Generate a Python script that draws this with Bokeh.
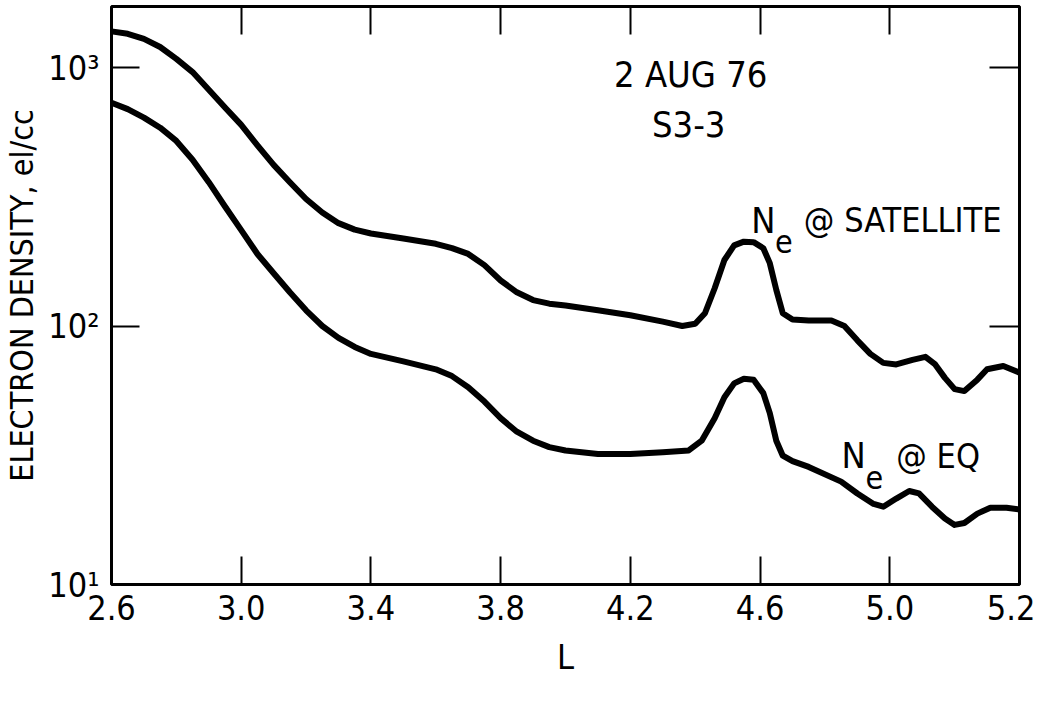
from bokeh.plotting import figure
from bokeh.models import (FixedTicker, LinearAxis, LogAxis, Label,
                          CustomJSTickFormatter, PrintfTickFormatter)
from bokeh.embed import file_html
from bokeh.resources import INLINE

# ---- data ----
L_sat = [2.60, 2.65, 2.70, 2.75, 2.80, 2.85, 2.90, 2.95, 3.00, 3.05, 3.10, 3.15,
         3.20, 3.25, 3.30, 3.35, 3.40, 3.50, 3.60, 3.65, 3.70, 3.75, 3.80, 3.85,
         3.90, 3.95, 4.00, 4.10, 4.20, 4.30, 4.36, 4.40, 4.43, 4.46, 4.49, 4.52,
         4.55, 4.58, 4.61, 4.63, 4.65, 4.67, 4.70, 4.75, 4.82, 4.86, 4.90, 4.94,
         4.98, 5.02, 5.07, 5.11, 5.14, 5.17, 5.20, 5.23, 5.27, 5.30, 5.35, 5.40]
ne_sat = [1380, 1350, 1290, 1200, 1080, 960, 820, 700, 600, 500, 420, 360,
          310, 275, 250, 236, 228, 218, 208, 200, 190, 172, 150, 135,
          126, 122, 120, 115, 110, 104, 100, 102, 112, 140, 180, 205,
          212, 211, 200, 175, 138, 112, 106, 105, 105, 100, 88, 78,
          72, 71, 74, 76, 71, 63, 57, 56, 62, 68, 70, 66]

L_eq = [2.60, 2.65, 2.70, 2.75, 2.80, 2.85, 2.90, 2.95, 3.00, 3.05, 3.10, 3.15,
        3.20, 3.25, 3.30, 3.35, 3.40, 3.50, 3.60, 3.65, 3.70, 3.75, 3.80, 3.85,
        3.90, 3.95, 4.00, 4.10, 4.20, 4.30, 4.38, 4.42, 4.46, 4.49, 4.52, 4.55,
        4.58, 4.61, 4.63, 4.65, 4.67, 4.70, 4.75, 4.85, 4.90, 4.95, 4.98, 5.02,
        5.06, 5.09, 5.13, 5.17, 5.20, 5.23, 5.27, 5.31, 5.36, 5.40]
ne_eq = [730, 690, 640, 585, 520, 440, 360, 290, 235, 190, 160, 135,
         115, 100, 90, 83, 78, 73, 68, 64, 58, 51, 44, 39,
         36, 34, 33, 32, 32, 32.5, 33, 36, 44, 53, 60, 62.5,
         62, 55, 46, 36, 31.5, 30, 28.5, 25, 22.5, 20.5, 20, 21.5,
         23, 22.5, 20, 18, 17, 17.3, 18.8, 19.8, 19.8, 19.5]

x_ticks = [2.6, 3.0, 3.4, 3.8, 4.2, 4.6, 5.0, 5.4]
x_top_ticks = [3.0, 3.4, 3.8, 4.2, 4.6, 5.0]
y_ticks = [10, 100, 1000]
y_tick_labels = {10: "10\u00b9", 100: "10\u00b2", 1000: "10\u00b3"}
last_x_label = "5.2"
x_title = "L"
y_title = "ELECTRON DENSITY, el/cc"

FONT = "DejaVu Sans Condensed, Liberation Sans Narrow, DejaVu Sans"

p = figure(width=1035, height=690, x_range=(2.6, 5.4), y_range=(10, 10 ** 3.236),
           y_axis_type="log", output_backend="svg", toolbar_location=None,
           min_border_left=105, min_border_right=16, min_border_top=6,
           min_border_bottom=106)
p.background_fill_color = "white"
p.border_fill_color = "white"
p.outline_line_color = "black"
p.outline_line_width = 3
p.xgrid.visible = False
p.ygrid.visible = False

# bottom axis
xa = p.xaxis[0]
xa.ticker = FixedTicker(ticks=x_ticks)
xa.formatter = PrintfTickFormatter(format="%.1f")
xa.major_label_overrides = {5.4: last_x_label}
xa.major_tick_in = 28
xa.major_tick_out = 0
xa.major_tick_line_width = 2
xa.major_tick_line_color = "black"
xa.minor_tick_line_color = None
xa.axis_line_color = None
xa.major_label_text_font = FONT
xa.major_label_text_font_size = "34px"
xa.major_label_text_color = "black"
xa.major_label_standoff = 10
xa.axis_label = x_title
xa.axis_label_text_font = FONT
xa.axis_label_text_font_size = "34px"
xa.axis_label_text_font_style = "normal"
xa.axis_label_text_color = "black"
xa.axis_label_standoff = 14

# left axis
ya = p.yaxis[0]
ya.ticker = FixedTicker(ticks=y_ticks)
ya.major_label_overrides = y_tick_labels
ya.major_tick_in = 28
ya.major_tick_out = 0
ya.major_tick_line_width = 2
ya.major_tick_line_color = "black"
ya.minor_tick_line_color = None
ya.axis_line_color = None
ya.major_label_text_font = FONT
ya.major_label_text_font_size = "34px"
ya.major_label_text_color = "black"
ya.major_label_standoff = 12
ya.axis_label = y_title
ya.axis_label_text_font = FONT
ya.axis_label_text_font_size = "32px"
ya.axis_label_text_font_style = "normal"
ya.axis_label_text_color = "black"
ya.axis_label_standoff = 4

blank = CustomJSTickFormatter(code="return ''")
top = LinearAxis(ticker=FixedTicker(ticks=x_top_ticks), formatter=blank,
                 major_tick_in=28, major_tick_out=0, major_tick_line_width=2,
                 major_tick_line_color="black",
                 minor_tick_line_color=None, axis_line_color=None,
                 major_label_text_font_size="1px", major_label_standoff=0)
p.add_layout(top, "above")
right = LogAxis(ticker=FixedTicker(ticks=[100, 1000]), formatter=blank,
                major_tick_in=30, major_tick_out=0, major_tick_line_width=2,
                major_tick_line_color="black",
                minor_tick_line_color=None, axis_line_color=None,
                major_label_text_font_size="1px", major_label_standoff=0)
p.add_layout(right, "right")

# curves
p.line(L_sat, ne_sat, line_color="black", line_width=6, line_join="round", line_cap="round")
p.line(L_eq, ne_eq, line_color="black", line_width=6, line_join="round", line_cap="round")

def lab(x, y, t, size, align="left", base="alphabetic"):
    p.add_layout(Label(x=x, y=y, text=t, text_font=FONT, text_font_size=size,
                       text_align=align, text_baseline=base, text_color="black"))

# annotations
lab(4.386, 940, "2 AUG 76", "36px", "center", "middle")
lab(4.38, 602, "S3-3", "36px", "center", "middle")

lab(4.573, 256, "N", "36px")
lab(4.646, 212, "e", "32px")
lab(4.735, 256, "@ SATELLITE", "34px")

lab(4.851, 31.5, "N", "36px")
lab(4.925, 26, "e", "32px")
lab(5.02, 31.5, "@ EQ", "34px")

open("out.html", "w").write(file_html(p, INLINE))
